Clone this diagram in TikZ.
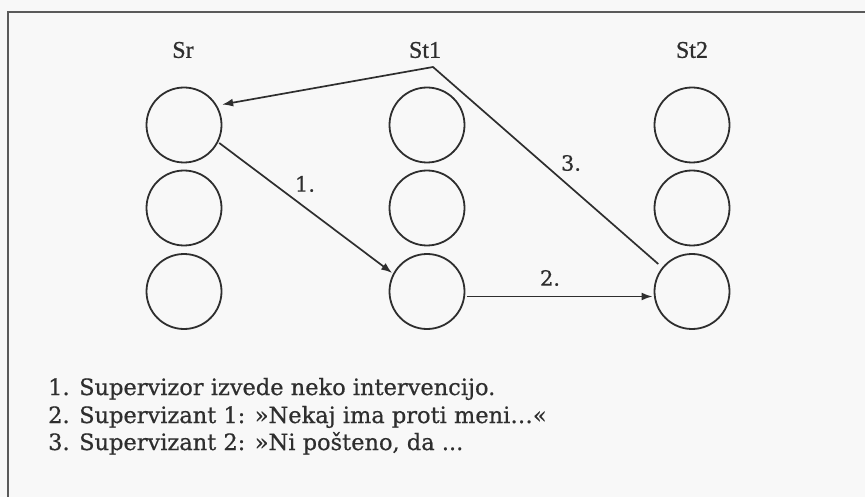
\documentclass[tikz,border=0pt]{standalone}
\usepackage{fontspec}
\setmainfont{DejaVu Serif}
\newfontfamily\legendfont{DejaVu Serif}[FakeBold=0.6]
\newfontfamily\labelfont{Liberation Serif}[FakeBold=0.8]
\usetikzlibrary{arrows.meta}
\definecolor{ink}{HTML}{2E2E2E}
\definecolor{paper}{HTML}{F8F8F8}
\definecolor{framec}{HTML}{5A5A5A}
\begin{document}
\begin{tikzpicture}[x=1pt,y=-1pt,
  person/.style={circle,draw=ink,line width=1.8pt,minimum size=75pt,inner sep=0pt,outer sep=2pt},
  colhead/.style={font=\labelfont\fontsize{24}{24}\selectfont,text=ink,inner sep=0pt},
  steplabel/.style={font=\legendfont\fontsize{21}{21}\selectfont,text=ink,inner sep=0pt},
  conn/.style={draw=ink,line width=1.7pt,line join=miter},
  arr/.style={conn,-{Latex[length=11pt,width=8pt]}},
  legend/.style={font=\legendfont\fontsize{22.5}{27}\selectfont,text=ink,anchor=base west,inner sep=0pt}
]
\useasboundingbox (0,0) rectangle (865,497);
\fill[paper] (0,0) rectangle (865,497);
\draw[framec,line width=2pt] (865,12) -- (8,12) -- (8,497);

% column headings
\node[colhead] (hsr)  at (183,50) {Sr};
\node[colhead] (hst1) at (425,50) {St1};
\node[colhead] (hst2) at (692,50) {St2};

% circles
\node[person] (sra) at (184,125) {};
\node[person] (srb) at (184,208) {};
\node[person] (src) at (184,291.5) {};
\node[person] (st1a) at (427,125) {};
\node[person] (st1b) at (427,208) {};
\node[person] (st1c) at (427,291.5) {};
\node[person] (st2a) at (692,125) {};
\node[person] (st2b) at (692,208) {};
\node[person] (st2c) at (692,291.5) {};

% connectors
\coordinate (apex) at (433,67);
\draw[arr,shorten <=4pt,shorten >=4pt] (st2c.141) -- (apex) -- (sra.30);
\draw[arr] (sra.-27) -- (st1c.152);
\draw[arr] ([yshift=-5pt]st1c.east) -- ([yshift=-5pt]st2c.west);

% step labels
\node[steplabel] (l1) at (305,184) {1.};
\node[steplabel] (l2) at (550,278) {2.};
\node[steplabel] (l3) at (571,163) {3.};

% legend
\node[legend] (t1) at (48,395) {1. Supervizor izvede neko intervencijo.};
\node[legend] (t2) at (48,423) {2. Supervizant 1: »Nekaj ima proti meni…«};
\node[legend] (t3) at (48,450) {3. Supervizant 2: »Ni pošteno, da ...};
\end{tikzpicture}
\end{document}
